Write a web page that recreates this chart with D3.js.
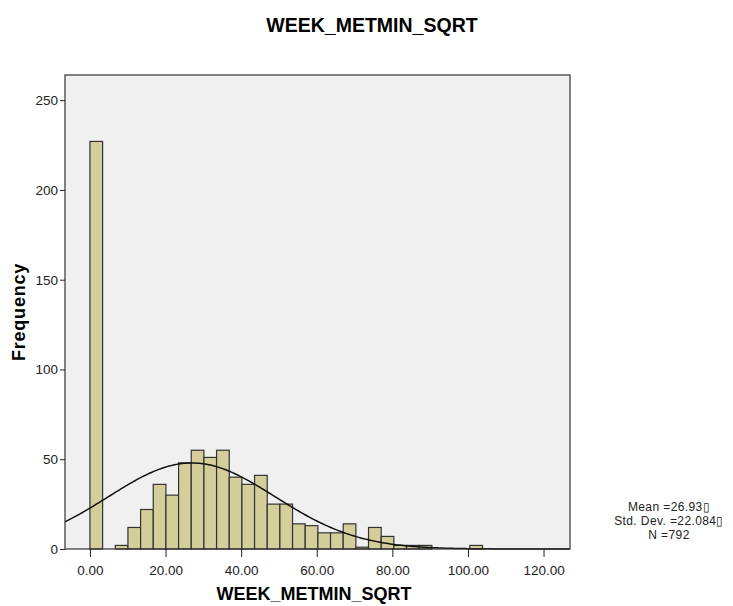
<!DOCTYPE html>
<html>
<head>
<meta charset="utf-8">
<script src="https://cdn.jsdelivr.net/npm/d3@7"></script>
<style>
body { margin: 0; background: #fff; }
svg { font-family: "Liberation Sans", Arial, sans-serif; }
.axis text { font-size: 13.5px; fill: #222; }
.axis path { display: none; }
.axis line { stroke: #222; }
</style>
</head>
<body>
<svg width="733" height="606"></svg>
<script>
// histogram bins (width ~3.35), counts
var binWidth = 3.35;
var counts = [227, 0, 2, 12, 22, 36, 30, 48, 55, 51, 55, 40, 36, 41, 25, 25,
	14, 13, 9, 9, 14, 1, 12, 7, 2, 2, 2, 0, 0, 0, 2];
var xTicks = [0, 20, 40, 60, 80, 100, 120];
var yTicks = [0, 50, 100, 150, 200, 250];
var stats = { mean: 26.93, sd: 22.084, n: 792 };

var svg = d3.select("svg");
var margin = { top: 75, right: 163, bottom: 57, left: 65 },
	width = 733 - margin.left - margin.right,
	height = 606 - margin.top - margin.bottom;

var xScale = d3.scaleLinear()
	.domain([-6.6, 127])
	.range([0, width]);

var yScale = d3.scaleLinear()
	.domain([0, 264])
	.range([height, 0]);

var g = svg.append("g")
	.attr("transform", "translate(" + margin.left + "," + margin.top + ")");

g.append("rect")
	.attr("width", width)
	.attr("height", height)
	.attr("fill", "#f0f0f0");

var bins = counts.map(function(c, i) { return { x0: i * binWidth, x1: (i + 1) * binWidth, c: c }; })
	.filter(function(d) { return d.c > 0; });

g.selectAll(".bar")
	.data(bins)
	.enter().append("rect")
		.attr("class", "bar")
		.attr("x", function(d) { return xScale(d.x0); })
		.attr("width", function(d) { return xScale(d.x1) - xScale(d.x0); })
		.attr("y", function(d) { return yScale(d.c); })
		.attr("height", function(d) { return yScale(0) - yScale(d.c); })
		.attr("fill", "#d3ce9a")
		.attr("stroke", "#333")
		.attr("stroke-width", 1.2);

// normal curve from the stats shown
var curveX = d3.range(-6.6, 127.01, 0.5);
var peak = stats.n * binWidth / (stats.sd * Math.sqrt(2 * Math.PI));
var line = d3.line()
	.x(function(d) { return xScale(d); })
	.y(function(d) {
		var z = (d - stats.mean) / stats.sd;
		return yScale(peak * Math.exp(-0.5 * z * z));
	});

g.append("path")
	.datum(curveX)
	.attr("fill", "none")
	.attr("stroke", "#111")
	.attr("stroke-width", 1.5)
	.attr("d", line);

g.append("rect")
	.attr("width", width)
	.attr("height", height)
	.attr("fill", "none")
	.attr("stroke", "#333")
	.attr("stroke-width", 1.2);

g.append("g")
	.attr("class", "x axis")
	.attr("transform", "translate(0," + height + ")")
	.call(d3.axisBottom(xScale).tickValues(xTicks).tickSize(8).tickPadding(8)
		.tickFormat(d3.format(".2f")));

g.append("g")
	.attr("class", "y axis")
	.call(d3.axisLeft(yScale).tickValues(yTicks).tickSize(5).tickPadding(2));

svg.append("text")
	.attr("x", 372)
	.attr("y", 32)
	.attr("text-anchor", "middle")
	.style("font-size", "19.5px")
	.style("font-weight", "bold")
	.text("WEEK_METMIN_SQRT");

svg.append("text")
	.attr("x", 314)
	.attr("y", 600)
	.attr("text-anchor", "middle")
	.style("font-size", "18px")
	.style("font-weight", "bold")
	.text("WEEK_METMIN_SQRT");

svg.append("text")
	.attr("transform", "translate(25," + 312 + ") rotate(-90)")
	.attr("text-anchor", "middle")
	.style("font-size", "18px")
	.style("letter-spacing", "0.8px")
	.style("font-weight", "bold")
	.text("Frequency");

var statLines = ["Mean =" + stats.mean.toFixed(2) + "\u25AF",
	"Std. Dev. =" + stats.sd.toFixed(3) + "\u25AF",
	"N =" + stats.n];
svg.append("g").selectAll("text")
	.data(statLines)
	.enter().append("text")
		.attr("x", 669)
		.attr("y", function(d, i) { return 511 + i * 14; })
		.attr("text-anchor", "middle")
		.style("font-size", "12px")
		.style("letter-spacing", "0.4px")
		.style("fill", "#222")
		.text(function(d) { return d; });
</script>
</body>
</html>
